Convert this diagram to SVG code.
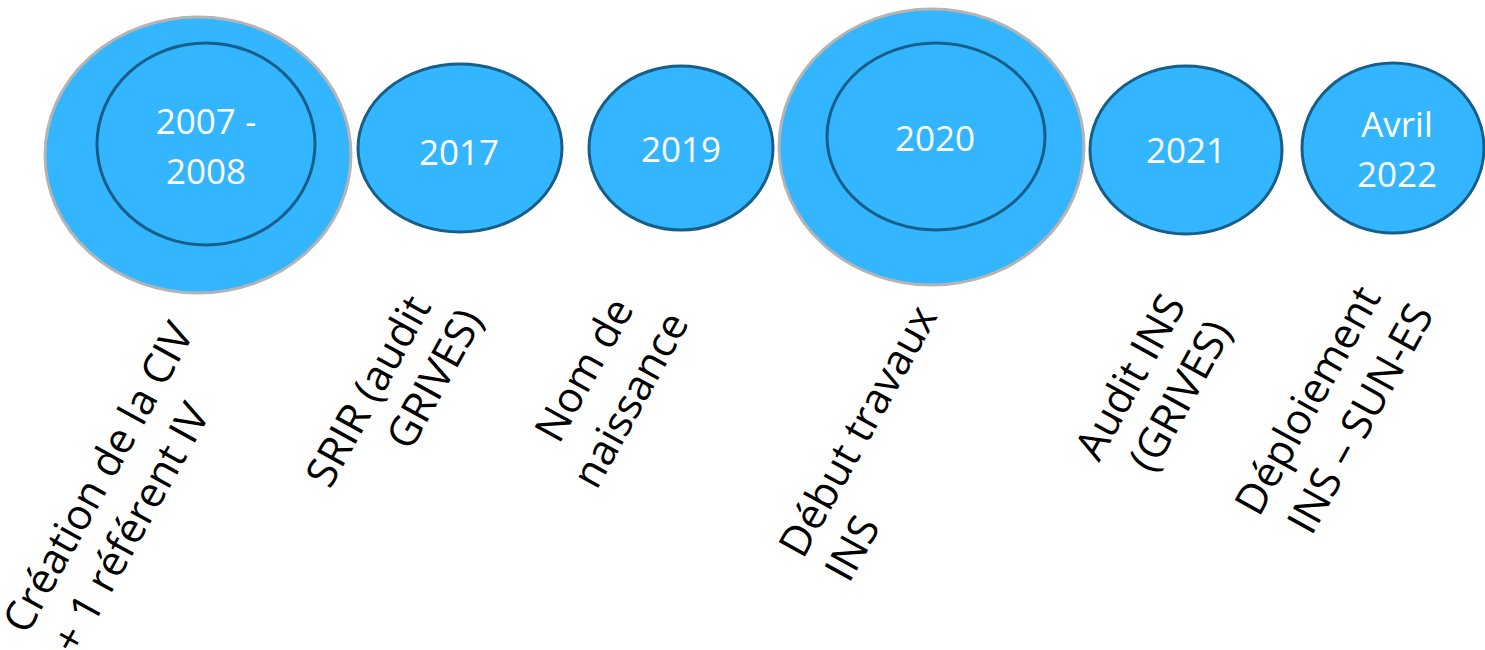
<svg xmlns="http://www.w3.org/2000/svg" width="1485" height="650" viewBox="0 0 1485 650">
<style>
.outer{fill:#33b5ff;stroke:#b4b4b4;stroke-width:3}
.inner{fill:#33b5ff;stroke:#175f88;stroke-width:3}
.yr{font-family:"Open Sans","Noto Sans",sans-serif;font-size:35px;fill:#ffffff;text-anchor:middle}
.lbl{font-family:"Open Sans","Noto Sans",sans-serif;font-size:42px;fill:#000000}
</style>
<rect width="1485" height="650" fill="#ffffff"/>
<g id="n2007">
<ellipse class="outer" cx="198" cy="155" rx="153" ry="138"/>
<ellipse class="inner" cx="206" cy="144" rx="109" ry="101"/>
<text class="yr" x="206" y="134">2007 -</text>
<text class="yr" x="206" y="184">2008</text>
</g>
<g id="n2017">
<ellipse class="inner" cx="460" cy="148" rx="102" ry="84"/>
<text class="yr" x="459" y="165">2017</text>
</g>
<g id="n2019">
<ellipse class="inner" cx="681" cy="148" rx="92" ry="82"/>
<text class="yr" x="681" y="162">2019</text>
</g>
<g id="n2020">
<ellipse class="outer" cx="931.5" cy="147" rx="152.5" ry="138"/>
<ellipse class="inner" cx="936" cy="136.5" rx="109" ry="93.5"/>
<text class="yr" x="935" y="151">2020</text>
</g>
<g id="n2021">
<ellipse class="inner" cx="1186" cy="150" rx="96" ry="84"/>
<text class="yr" x="1186" y="163">2021</text>
</g>
<g id="n2022">
<ellipse class="inner" cx="1393" cy="148" rx="91" ry="85"/>
<text class="yr" x="1397" y="137">Avril</text>
<text class="yr" x="1397" y="187">2022</text>
</g>
<g id="connectors"></g>
<g id="labels">
<g id="l2007" transform="translate(27,636) rotate(-61)">
<text class="lbl"><tspan x="0" y="0">Création de la CIV</tspan><tspan x="6" y="53">+ 1 référent IV</tspan></text>
</g>
<g id="l2017" transform="translate(330,490) rotate(-61)">
<text class="lbl"><tspan x="0" y="0">SRIR (audit</tspan><tspan x="72" y="52">GRIVES)</tspan></text>
</g>
<g id="l2019" transform="translate(559,445) rotate(-61)">
<text class="lbl"><tspan x="0" y="0">Nom de</tspan><tspan x="-22" y="55">naissance</tspan></text>
</g>
<g id="l2020" transform="translate(803,560) rotate(-61)">
<text class="lbl"><tspan x="0" y="0">Début travaux</tspan><tspan x="1" y="52">INS</tspan></text>
</g>
<g id="l2021" transform="translate(1099,463) rotate(-61)">
<text class="lbl"><tspan x="0" y="0">Audit INS</tspan><tspan x="16" y="53">(GRIVES)</tspan></text>
</g>
<g id="l2022" transform="translate(1259,518) rotate(-61)">
<text class="lbl"><tspan x="0" y="0">Déploiement</tspan><tspan x="9" y="55">INS – SUN-ES</tspan></text>
</g>
</g>
</svg>
